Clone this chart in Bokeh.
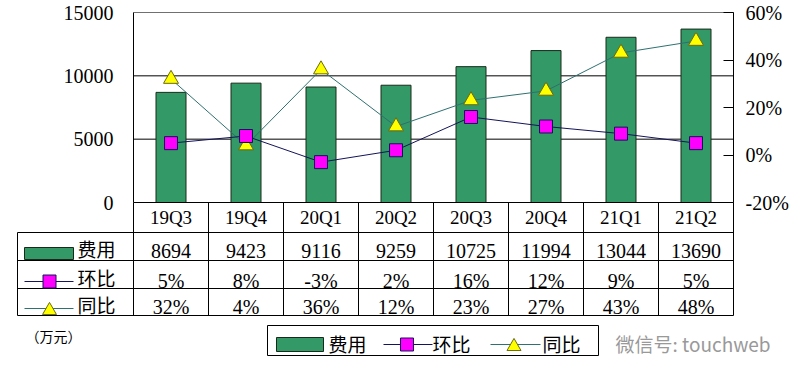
from bokeh.plotting import figure
from bokeh.models import Range1d, LinearAxis, FixedTicker
from bokeh.core.properties import value
from bokeh.embed import file_html
from bokeh.resources import INLINE

# ---------------- data ----------------
quarters = ["19Q3", "19Q4", "20Q1", "20Q2", "20Q3", "20Q4", "21Q1", "21Q2"]
fee = [8694, 9423, 9116, 9259, 10725, 11994, 13044, 13690]
qoq = [5, 8, -3, 2, 16, 12, 9, 5]
yoy = [32, 4, 36, 12, 23, 27, 43, 48]
row_names = ["费用", "环比", "同比"]
left_ticks = [0, 5000, 10000, 15000]
right_ticks = [-20, 0, 20, 40, 60]
right_tick_labels = ["-20%", "0%", "20%", "40%", "60%"]
unit_label = "（万元）"
watermark = "微信号: touchweb"

# ---------------- style / layout ----------------
BAR = "#339966"
BAR_EDGE = "#1a2a1a"
QOQ_LINE = "#14145a"
QOQ_FILL = "#FF00FF"
YOY_LINE = "#2F7070"
YOY_FILL = "#FFFF00"
YOY_EDGE = "#6B6B10"
NUM_FONT = "Liberation Serif"
CJK_FONT = "Noto Sans CJK SC"
W, H = 800, 375
X0_PX, PX = 133.0, 75.0          # chart left edge (px) and px per category
Y0_PX, TOP_PX = 202.0, 12.0      # px of value 0 and of value 15000
FEE_MAX = 15000.0
S = FEE_MAX / (Y0_PX - TOP_PX)   # value units per px


def X(px):
    return (px - X0_PX) / PX


def Y(py):
    return (Y0_PX - py) * S


y_lo, y_hi = Y(H), Y(0)
PCT_LO, PCT_HI = right_ticks[0], right_ticks[-1]
k = (PCT_HI - PCT_LO) / FEE_MAX

p = figure(width=W, height=H, x_range=Range1d(X(0), X(W)), y_range=Range1d(y_lo, y_hi),
           output_backend="svg", toolbar_location=None,
           x_axis_location=None, y_axis_location=None,
           min_border_left=0, min_border_right=0, min_border_top=0, min_border_bottom=0,
           outline_line_color=None)
p.extra_y_ranges = {"pct": Range1d(PCT_LO + y_lo * k, PCT_LO + y_hi * k)}
p.grid.visible = False

n = len(quarters)
xc = [i + 0.5 for i in range(n)]

# axes
la = LinearAxis(fixed_location=0, bounds=(left_ticks[0], left_ticks[-1]),
                ticker=FixedTicker(ticks=left_ticks), major_tick_in=0, major_tick_out=0,
                minor_tick_line_color=None, major_label_standoff=20, axis_line_color="black",
                major_label_text_font=NUM_FONT, major_label_text_font_size="20px",
                major_label_text_color="black")
p.add_layout(la, "left")
ra = LinearAxis(y_range_name="pct", fixed_location=n, bounds=(PCT_LO, PCT_HI),
                ticker=FixedTicker(ticks=right_ticks),
                major_label_overrides=dict(zip(right_ticks, right_tick_labels)),
                major_tick_in=10, major_tick_out=0, minor_tick_line_color=None,
                major_label_standoff=12, axis_line_color="black",
                major_label_text_font=NUM_FONT, major_label_text_font_size="20px",
                major_label_text_color="black")
p.add_layout(ra, "right")

# gridlines (chart area only)
gt = left_ticks[1:]
p.segment(x0=[0] * len(gt), x1=[n] * len(gt), y0=gt, y1=gt,
          line_color=["black"] * (len(gt) - 1) + ["#707070"], line_width=1)

# series
p.vbar(x=xc, top=fee, width=0.4, fill_color=BAR, line_color=BAR_EDGE)
p.line(xc, yoy, y_range_name="pct", line_color=YOY_LINE, line_width=1)
p.scatter(xc, yoy, y_range_name="pct", marker="triangle", size=15,
          fill_color=YOY_FILL, line_color=YOY_EDGE)
p.line(xc, qoq, y_range_name="pct", line_color=QOQ_LINE, line_width=1)
p.scatter(xc, qoq, y_range_name="pct", marker="square", size=13,
          fill_color=QOQ_FILL, line_color=QOQ_LINE)

# ---------------- table ----------------
bounds = list(range(n + 1))
LEFT = X(17)
ROWS = [Y(v) for v in (202, 232, 260, 288, 315)]
p.segment(x0=[0] + [LEFT] * 4, x1=[n] * 5, y0=ROWS, y1=ROWS, line_color="black", line_width=1)
p.segment(x0=bounds, x1=bounds, y0=[ROWS[0]] * len(bounds), y1=[ROWS[-1]] * len(bounds),
          line_color="black", line_width=1)
p.segment(x0=[LEFT], x1=[LEFT], y0=[ROWS[1]], y1=[ROWS[-1]], line_color="black", line_width=1)

p.text(x=xc, y=[Y(216.5)] * n, text=quarters, text_font=value(NUM_FONT),
       text_font_size="19px", text_align="center", text_baseline="middle")
p.text(x=xc, y=[Y(250.5)] * n, text=[str(v) for v in fee], text_font=value(NUM_FONT),
       text_font_size="20px", text_align="center", text_baseline="middle")
p.text(x=xc, y=[Y(280)] * n, text=[f"{v}%" for v in qoq], text_font=value(NUM_FONT),
       text_font_size="20px", text_align="center", text_baseline="middle")
p.text(x=xc, y=[Y(306.5)] * n, text=[f"{v}%" for v in yoy], text_font=value(NUM_FONT),
       text_font_size="20px", text_align="center", text_baseline="middle")
p.text(x=[X(77)] * 3, y=[Y(248), Y(276.5), Y(304)], text=row_names,
       text_font=value(CJK_FONT), text_font_size="19px", text_align="left",
       text_baseline="middle")

# row icons
p.quad(left=[X(24)], right=[X(73)], top=[Y(247)], bottom=[Y(259)],
       fill_color=BAR, line_color=BAR_EDGE)
p.line(x=[X(24), X(73)], y=[Y(281)] * 2, line_color=QOQ_LINE)
p.scatter(x=[X(49)], y=[Y(281)], marker="square", size=13, fill_color=QOQ_FILL,
          line_color=QOQ_LINE)
p.line(x=[X(24), X(73)], y=[Y(308)] * 2, line_color=YOY_LINE)
p.scatter(x=[X(49)], y=[Y(310)], marker="triangle", size=14, fill_color=YOY_FILL,
          line_color=YOY_EDGE)

# unit + watermark
p.text(x=[X(25)], y=[Y(335)], text=[unit_label], text_font=value(CJK_FONT),
       text_font_size="14px", text_align="left", text_baseline="middle")

# ---------------- legend box ----------------
p.quad(left=[X(267)], right=[X(598)], top=[Y(325)], bottom=[Y(355)],
       fill_color="white", line_color="black")
p.quad(left=[X(276)], right=[X(323)], top=[Y(337)], bottom=[Y(351)],
       fill_color=BAR, line_color=BAR_EDGE)
p.line(x=[X(383), X(432)], y=[Y(344)] * 2, line_color=QOQ_LINE)
p.scatter(x=[X(406.5)], y=[Y(344)], marker="square", size=13, fill_color=QOQ_FILL,
          line_color=QOQ_LINE)
p.line(x=[X(490), X(540)], y=[Y(344)] * 2, line_color=YOY_LINE)
p.scatter(x=[X(513.5)], y=[Y(346)], marker="triangle", size=14, fill_color=YOY_FILL,
          line_color=YOY_EDGE)
p.text(x=[X(328), X(432), X(542)], y=[Y(343)] * 3, text=row_names,
       text_font=value(CJK_FONT), text_font_size="19px", text_align="left",
       text_baseline="middle")

p.text(x=[X(615)], y=[Y(343)], text=[watermark], text_font=value(CJK_FONT),
       text_font_size="19px", text_align="left", text_baseline="middle",
       text_color="#999999")

open("out.html", "w").write(file_html(p, INLINE))
